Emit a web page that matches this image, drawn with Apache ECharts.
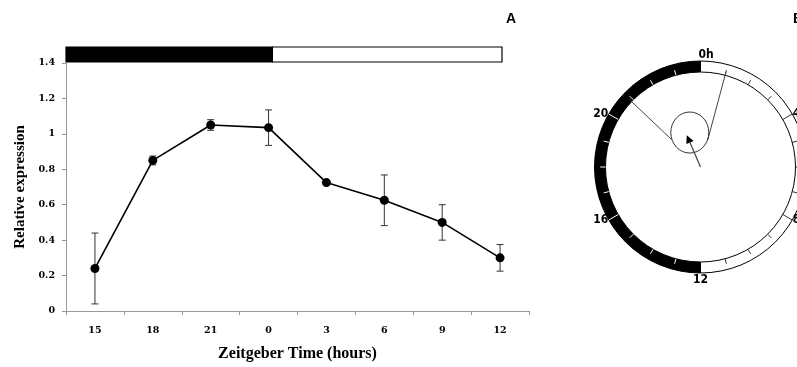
<!DOCTYPE html>
<html>
<head>
<meta charset="utf-8">
<script src="https://cdn.jsdelivr.net/npm/echarts@6/dist/echarts.min.js"></script>
<style>
  html, body { margin: 0; padding: 0; background: #fff; }
  #chart { width: 797px; height: 367px; }
</style>
</head>
<body>
<div id="chart"></div>
<script>
// Relative expression sampled every 3 h across one light/dark cycle (mean ± error)
const zeitgeberTimes = ['15', '18', '21', '0', '3', '6', '9', '12'];
const expressionMean = [0.24, 0.85, 1.05, 1.035, 0.725, 0.625, 0.50, 0.30];
const expressionErr  = [0.20, 0.025, 0.03, 0.10, 0.012, 0.143, 0.10, 0.075];

// Y axis range and step
const yMin = 0, yMax = 1.4, yStep = 0.2;

// Light/dark schedule along the time axis, in ZT hours (axis spans 13.5 .. 37.5)
const ztAxisRange = [13.5, 37.5];
const lightDarkBlocks = [[13.5, 24.2], [24.2, 36.1]];
const lightDarkFill = ['#000', '#fff'];

// Cosinor summary: acrophase (h) and amplitude (fraction of rim)
const acrophaseHour = 22.45;
const amplitude = 0.365;
// Joint confidence ellipse: [radius, hour] of centre and semi-axes (fraction of rim)
const ellipseCentre = [0.38, 22.85];
const ellipseSemiAxes = [0.20, 0.216];
// Acrophase confidence limits: [inner radius, hour, outer radius]
const phaseLimits = [[0.42, 20.9, 1.04], [0.29, 1.0, 1.04]];

// Clock dial: labelled hours and hourly ticks
const clockLabels = [[0, '0h'], [4, '4'], [8, '8'], [12, '12'], [16, '16'], [20, '20']];
const clockTickHours = [1, 2, 3, 4, 5, 6, 7, 8, 9, 10, 11, 13, 14, 15, 16, 17, 18, 19, 20, 21, 22, 23];
const dialHalves = [12, 12]; // light half (0-12 h), dark half (12-24 h)

const chart = echarts.init(document.getElementById('chart'), null, { renderer: 'canvas' });

const tickFont = 'DejaVu Serif';
const titleFont = 'Liberation Serif';
const dialFont = '"Liberation Sans Narrow", "DejaVu Sans Condensed", sans-serif';

function dialUnit(api) {
  const c = api.coord([0, 0]);
  const e = api.coord([1, 0]);
  return Math.hypot(e[0] - c[0], e[1] - c[1]);
}

const option = {
  animation: false,
  graphic: [
    { type: 'text', left: 506, top: 12, style: { text: 'A', font: 'bold 14px "Liberation Sans", sans-serif', fill: '#000' } },
    { type: 'text', left: 793, top: 12, style: { text: 'B', font: 'bold 14px "Liberation Sans", sans-serif', fill: '#000' } }
  ],
  grid: { left: 66, right: 268, top: 63, bottom: 53 },
  xAxis: [
    {
      type: 'category',
      data: zeitgeberTimes,
      boundaryGap: true,
      name: 'Zeitgeber Time (hours)',
      nameLocation: 'middle',
      nameGap: 35,
      nameTextStyle: { fontFamily: titleFont, fontWeight: 'bold', fontSize: 16, color: '#000' },
      axisLine: { lineStyle: { color: '#999', width: 1 } },
      axisTick: { show: true, length: 4, lineStyle: { color: '#999' } },
      axisLabel: { margin: 15, fontFamily: tickFont, fontWeight: 'bold', fontSize: 9.5, color: '#000' },
      splitLine: { show: false }
    },
    {
      type: 'value',
      min: ztAxisRange[0],
      max: ztAxisRange[1],
      position: 'top',
      show: false
    }
  ],
  yAxis: {
    type: 'value',
    min: yMin,
    max: yMax,
    interval: yStep,
    name: 'Relative expression',
    nameLocation: 'middle',
    nameGap: 38,
    nameTextStyle: { fontFamily: titleFont, fontWeight: 'bold', fontSize: 15, color: '#000' },
    axisLine: { show: true, lineStyle: { color: '#999', width: 1 } },
    axisTick: { show: true, length: 4, lineStyle: { color: '#999' } },
    axisLabel: {
      margin: 11, fontFamily: tickFont, fontWeight: 'bold', fontSize: 9.5, color: '#000',
      formatter: v => String(Math.round(v * 10) / 10)
    },
    splitLine: { show: false }
  },
  polar: { center: [700.5, 167], radius: 95 },
  angleAxis: {
    type: 'value', min: 0, max: 24, startAngle: 90, clockwise: true,
    axisLine: { show: false }, axisTick: { show: false }, axisLabel: { show: false }, splitLine: { show: false }
  },
  radiusAxis: {
    type: 'value', min: 0, max: 1,
    axisLine: { show: false }, axisTick: { show: false }, axisLabel: { show: false }, splitLine: { show: false }
  },
  series: [
    // light/dark bar above the plot
    {
      type: 'custom',
      xAxisIndex: 1,
      yAxisIndex: 0,
      clip: false,
      silent: true,
      encode: { x: [0, 1] },
      data: lightDarkBlocks,
      renderItem(params, api) {
        const a = api.coord([api.value(0), yMax]);
        const b = api.coord([api.value(1), yMax]);
        return {
          type: 'rect',
          shape: { x: a[0], y: a[1] - 16, width: b[0] - a[0], height: 15 },
          style: { fill: lightDarkFill[params.dataIndex], stroke: '#000', lineWidth: 1.2 }
        };
      },
      z: 3
    },
    // error bars
    {
      type: 'custom',
      silent: true,
      data: expressionMean.map((m, i) => [i, m - expressionErr[i], m + expressionErr[i]]),
      encode: { x: 0, y: [1, 2] },
      renderItem(params, api) {
        const i = api.value(0);
        const top = api.coord([i, api.value(2)]);
        const bot = api.coord([i, api.value(1)]);
        const cap = 3.5;
        const st = { stroke: '#333', lineWidth: 1 };
        return {
          type: 'group',
          children: [
            { type: 'line', shape: { x1: top[0], y1: top[1], x2: bot[0], y2: bot[1] }, style: st },
            { type: 'line', shape: { x1: top[0] - cap, y1: top[1], x2: top[0] + cap, y2: top[1] }, style: st },
            { type: 'line', shape: { x1: bot[0] - cap, y1: bot[1], x2: bot[0] + cap, y2: bot[1] }, style: st }
          ]
        };
      },
      z: 2
    },
    // mean expression
    {
      type: 'line',
      data: expressionMean,
      symbol: 'circle',
      symbolSize: 9,
      lineStyle: { color: '#000', width: 1.6 },
      itemStyle: { color: '#000' },
      silent: true,
      z: 4
    },
    // clock dial ring: light half and dark half
    {
      type: 'pie',
      center: [700.5, 167],
      radius: [95, 106],
      startAngle: 90,
      clockwise: true,
      silent: true,
      label: { show: false },
      labelLine: { show: false },
      emphasis: { disabled: true },
      data: [
        { value: dialHalves[0], name: 'light', itemStyle: { color: '#fff', borderColor: '#000', borderWidth: 1 } },
        { value: dialHalves[1], name: 'dark', itemStyle: { color: '#000', borderColor: '#000', borderWidth: 1 } }
      ],
      z: 1
    },
    // hourly ticks on the dial
    {
      type: 'custom',
      coordinateSystem: 'polar',
      silent: true,
      data: clockTickHours.map(h => [1, h]),
      renderItem(params, api) {
        const h = api.value(1);
        const long = h % 4 === 0;
        const p1 = api.coord([1, h]);
        const p2 = api.coord([long ? 1.115 : 1.055, h]);
        return {
          type: 'line',
          shape: { x1: p1[0], y1: p1[1], x2: p2[0], y2: p2[1] },
          style: { stroke: h > 12 ? '#fff' : '#333', lineWidth: 1 }
        };
      },
      z: 5
    },
    // dial labels
    {
      type: 'custom',
      coordinateSystem: 'polar',
      silent: true,
      data: clockLabels.map(d => [1.12, d[0]]),
      renderItem(params, api) {
        const p = api.coord([api.value(0), api.value(1)]);
        const c = api.coord([0, 0]);
        const dx = p[0] - c[0], dy = p[1] - c[1];
        const align = Math.abs(dx) < 10 ? (dy < 0 ? 'left' : 'center') : (dx > 0 ? 'left' : 'right');
        const vAlign = dy < -80 ? 'bottom' : (dy > 80 ? 'top' : 'middle');
        return {
          type: 'text',
          style: {
            x: p[0] + (align === 'left' && Math.abs(dx) < 10 ? -2 : 0), y: p[1],
            text: clockLabels[params.dataIndex][1],
            align: align, verticalAlign: vAlign,
            font: 'bold 12px ' + dialFont, fill: '#000'
          }
        };
      },
      z: 6
    },
    // acrophase confidence limits
    {
      type: 'custom',
      coordinateSystem: 'polar',
      silent: true,
      data: phaseLimits,
      encode: { radius: 0, angle: 1 },
      renderItem(params, api) {
        const h = api.value(1);
        const a = api.coord([api.value(0), h]);
        const b = api.coord([api.value(2), h]);
        return {
          type: 'line',
          shape: { x1: a[0], y1: a[1], x2: b[0], y2: b[1] },
          style: { stroke: '#444', lineWidth: 1 }
        };
      },
      z: 5
    },
    // confidence ellipse
    {
      type: 'custom',
      coordinateSystem: 'polar',
      silent: true,
      data: [ellipseCentre],
      renderItem(params, api) {
        const unit = dialUnit(api);
        const p = api.coord([api.value(0), api.value(1)]);
        return {
          type: 'ellipse',
          shape: { cx: p[0], cy: p[1], rx: ellipseSemiAxes[0] * unit, ry: ellipseSemiAxes[1] * unit },
          style: { fill: 'none', stroke: '#333', lineWidth: 1 }
        };
      },
      z: 5
    },
    // acrophase vector
    {
      type: 'custom',
      coordinateSystem: 'polar',
      silent: true,
      data: [[amplitude, acrophaseHour]],
      renderItem(params, api) {
        const c = api.coord([0, 0]);
        const t = api.coord([api.value(0), api.value(1)]);
        const dx = t[0] - c[0], dy = t[1] - c[1];
        const len = Math.hypot(dx, dy);
        const ux = dx / len, uy = dy / len;
        const hl = 8, hw = 4;
        const bx = t[0] - ux * hl, by = t[1] - uy * hl;
        return {
          type: 'group',
          children: [
            { type: 'line', shape: { x1: c[0], y1: c[1], x2: bx, y2: by }, style: { stroke: '#444', lineWidth: 1.2 } },
            { type: 'polygon', shape: { points: [[t[0], t[1]], [bx - uy * hw, by + ux * hw], [bx + uy * hw, by - ux * hw]] }, style: { fill: '#000' } }
          ]
        };
      },
      z: 6
    }
  ]
};

chart.setOption(option);
</script>
</body>
</html>
